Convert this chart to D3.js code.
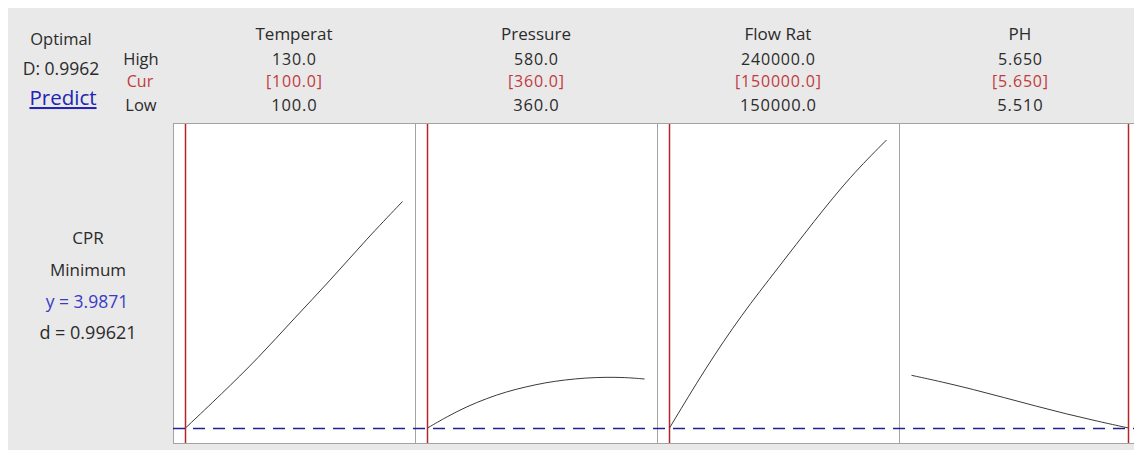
<!DOCTYPE html>
<html>
<head>
<meta charset="utf-8">
<script src="https://cdn.jsdelivr.net/npm/d3@7"></script>
<style>
  html, body { margin: 0; padding: 0; background: #ffffff; }
  svg { display: block; font-family: "Open Sans", "Noto Sans", sans-serif; }
</style>
</head>
<body>
<svg id="chart" width="1134" height="450"></svg>
<script>
// ---- data ----
const factors = ["Temperat", "Pressure", "Flow Rat", "PH"];
const highLabels = ["130.0", "580.0", "240000.0", "5.650"];
const curLabels = ["[100.0]", "[360.0]", "[150000.0]", "[5.650]"];
const lowLabels = ["100.0", "360.0", "150000.0", "5.510"];
const lowValues = [100, 360, 150000, 5.51];
const highValues = [130, 580, 240000, 5.65];
const curValues = [100, 360, 150000, 5.65];

const tempX = [100, 105, 110, 115, 120, 125, 130];
const tempY = [3.987, 4.580, 5.194, 5.885, 6.546, 7.260, 7.916];
const presX = [360, 380, 400, 420, 440, 460, 480, 500, 520, 540, 560, 580];
const presY = [3.987, 4.186, 4.360, 4.500, 4.617, 4.702, 4.776, 4.823, 4.856, 4.868, 4.866, 4.837];
const flowX = [150000, 165000, 180000, 195000, 210000, 225000, 240000];
const flowY = [3.987, 5.031, 5.959, 6.762, 7.578, 8.353, 8.983];
const phX = [5.51, 5.53, 5.55, 5.57, 5.59, 5.61, 5.63, 5.65];
const phY = [4.901, 4.785, 4.655, 4.513, 4.369, 4.230, 4.105, 3.987];

const responseName = "CPR";
const goal = "Minimum";
const yCurrent = 3.9871;
const dValue = "0.99621";
const compositeD = "0.9962";

const seriesX = [tempX, presX, flowX, phX];
const seriesY = [tempY, presY, flowY, phY];

// ---- layout ----
const svg = d3.select("#chart");
const W = 1134, H = 450;
const panelTop = 123, panelBottom = 443;
const panelLeft = 173, panelW = 242;
const pad = 12.5;
const black = "#2b2b2b", red = "#c23a3e";

// background
svg.append("rect").attr("x", 0).attr("y", 0).attr("width", W).attr("height", H).attr("fill", "#ffffff");
svg.append("rect").attr("x", 8).attr("y", 8).attr("width", W - 8).attr("height", H - 8).attr("fill", "#e9e9e9");

const band = d3.scaleBand().domain(factors).range([panelLeft, panelLeft + panelW * factors.length]).paddingInner(0).paddingOuter(0);
const y = d3.scaleLinear().domain([3.727, 9.278]).range([panelBottom, panelTop]);

// left header text
const leftG = svg.append("g");
leftG.append("text").attr("x", 61).attr("y", 45).attr("text-anchor", "middle")
  .attr("font-size", 16.5).attr("fill", black).text("Optimal");
leftG.append("text").attr("x", 61).attr("y", 74.5).attr("text-anchor", "middle")
  .attr("font-size", 17.5).attr("fill", black).text("D: " + compositeD);
leftG.append("text").attr("x", 63).attr("y", 105).attr("text-anchor", "middle")
  .attr("font-size", 20.5).attr("fill", "#2323b5").attr("text-decoration", "underline").text("Predict");

leftG.append("text").attr("x", 141).attr("y", 64.5).attr("text-anchor", "middle").attr("font-size", 16.5).attr("fill", black).text("High");
leftG.append("text").attr("x", 140).attr("y", 86.5).attr("text-anchor", "middle").attr("font-size", 16).attr("fill", red).text("Cur");
leftG.append("text").attr("x", 141).attr("y", 111).attr("text-anchor", "middle").attr("font-size", 16.5).attr("fill", black).text("Low");

// response block
const rx = 88;
leftG.append("text").attr("x", rx).attr("y", 243.5).attr("text-anchor", "middle").attr("font-size", 17).attr("fill", black).text(responseName);
leftG.append("text").attr("x", rx).attr("y", 276).attr("text-anchor", "middle").attr("font-size", 17).attr("fill", black).text(goal);
leftG.append("text").attr("x", 87).attr("y", 308).attr("text-anchor", "middle").attr("font-size", 17.5).attr("fill", "#3b3bc4").text("y = " + yCurrent.toFixed(4));
leftG.append("text").attr("x", rx).attr("y", 339).attr("text-anchor", "middle").attr("font-size", 18).attr("fill", black).text("d = " + dValue);

// panels
factors.forEach((f, i) => {
  const x0 = band(f);
  const g = svg.append("g").attr("transform", `translate(${x0},0)`);
  const xs = d3.scaleLinear().domain([lowValues[i], highValues[i]]).range([pad, panelW - pad]);
  const cx = panelW / 2;

  g.append("text").attr("x", cx).attr("y", 39.5).attr("text-anchor", "middle").attr("font-size", 17).attr("fill", black).text(f);
  g.append("text").attr("x", cx + 0.4).attr("y", 64.5).attr("text-anchor", "middle").attr("font-size", 16)
    .attr("letter-spacing", 0.8).attr("fill", black).text(highLabels[i]);
  g.append("text").attr("x", cx + 0.4).attr("y", 86.5).attr("text-anchor", "middle").attr("font-size", 16)
    .attr("letter-spacing", 0.8).attr("fill", red).text(curLabels[i]);
  g.append("text").attr("x", cx + 0.4).attr("y", 111).attr("text-anchor", "middle").attr("font-size", 16.5)
    .attr("letter-spacing", 0.8).attr("fill", black).text(lowLabels[i]);

  g.append("rect").attr("x", 0.5).attr("y", panelTop + 0.5).attr("width", panelW).attr("height", panelBottom - panelTop)
    .attr("fill", "#ffffff").attr("stroke", "#a3a3a3").attr("stroke-width", 1);

  const pts = seriesX[i].map((v, k) => [xs(v), y(seriesY[i][k])]);
  g.append("path").attr("d", d3.line().curve(d3.curveBasis)(pts))
    .attr("fill", "none").attr("stroke", "#3a3a3a").attr("stroke-width", 1);

  g.append("line").attr("x1", xs(curValues[i])).attr("x2", xs(curValues[i]))
    .attr("y1", panelTop + 1).attr("y2", panelBottom)
    .attr("stroke", "#b3242b").attr("stroke-width", 1.5);
});

// dashed current response line
svg.append("line").attr("x1", panelLeft).attr("x2", panelLeft + panelW * factors.length)
  .attr("y1", Math.round(y(yCurrent)) + 0.5).attr("y2", Math.round(y(yCurrent)) + 0.5)
  .attr("stroke", "#20208e").attr("stroke-width", 1.6).attr("stroke-dasharray", "12,8");
</script>
</body>
</html>
